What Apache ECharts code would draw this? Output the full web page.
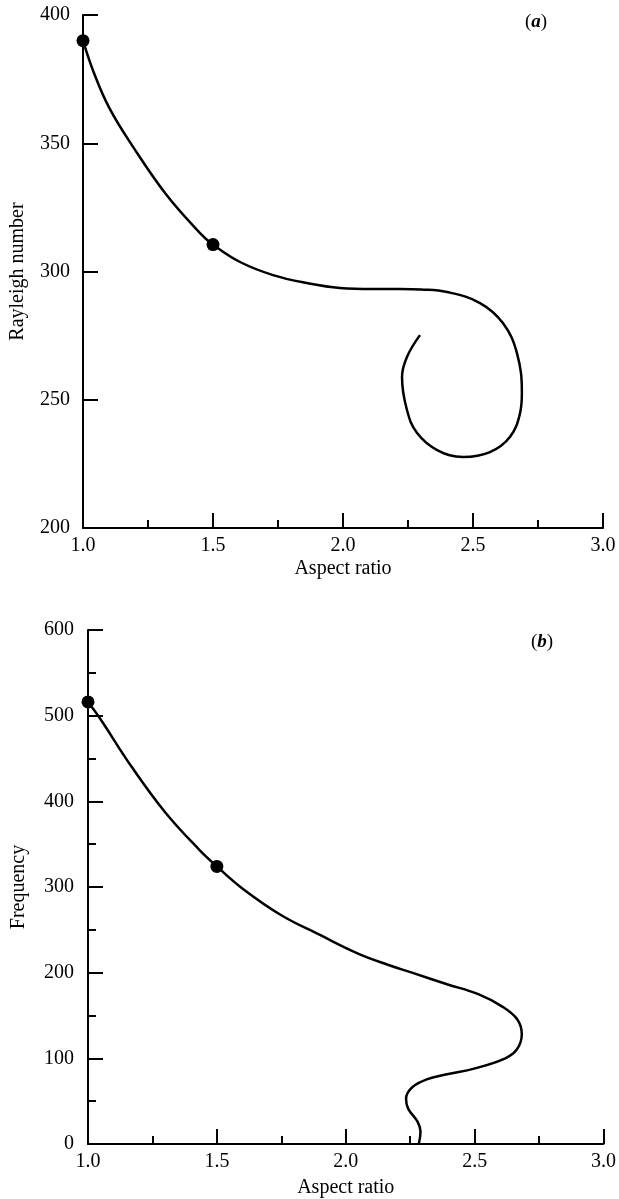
<!DOCTYPE html>
<html>
<head>
<meta charset="utf-8">
<title>Rayleigh number / Frequency vs aspect ratio</title>
<script src="https://cdn.jsdelivr.net/npm/echarts@6/dist/echarts.min.js"></script>
<style>
  html, body { margin: 0; padding: 0; background: #fff; }
  #chart { width: 619px; height: 1199px; }
</style>
</head>
<body>
<div id="chart"></div>
<script>
// (a) Rayleigh number curve
var ratioA = [1.0, 1.04, 1.1, 1.19, 1.32, 1.45, 1.5, 1.604, 1.731, 1.862, 1.988, 2.115, 2.219, 2.30, 2.4, 2.527, 2.615, 2.669, 2.688, 2.681, 2.642, 2.565, 2.462, 2.362, 2.285, 2.246, 2.227, 2.246, 2.296];
var rayleigh = [390, 378, 364, 349, 330, 315, 310.5, 303.7, 298.6, 295.5, 293.6, 293.2, 293.2, 293.0, 292, 287.7, 279.9, 268.2, 252.6, 244.8, 235.5, 229.6, 227.7, 230.4, 237, 246, 258.9, 266.7, 275.2];
var dotsA = [[1.0, 390], [1.5, 310.5]];

// (b) Frequency curve
var ratioB = [1.0, 1.046, 1.17, 1.30, 1.43, 1.5, 1.6, 1.75, 1.9, 2.05, 2.166, 2.257, 2.393, 2.514, 2.604, 2.665, 2.683, 2.665, 2.619, 2.498, 2.393, 2.317, 2.257, 2.234, 2.242, 2.279, 2.290, 2.284];
var frequency = [516, 497, 440, 387, 344, 324, 298, 267, 244, 222, 209, 200, 186.5, 175, 161, 145.6, 128, 110.8, 100, 88, 81.5, 75.7, 66, 52.9, 41.3, 25.9, 14.3, 0.8];
var dotsB = [[1.0, 516], [1.5, 324]];

function pairs(xs, ys) {
    var out = [];
    for (var i = 0; i < xs.length; i++) out.push([xs[i], ys[i]]);
    return out;
}

var font = 'Liberation Serif';
var fs = 20;
var axisLineStyle = { color: '#000', width: 2 };

function xAxisFor(idx) {
    return {
        type: 'value', gridIndex: idx, min: 1, max: 3, interval: 0.5,
        name: 'Aspect ratio', nameLocation: 'middle', nameGap: idx === 0 ? 31 : 34,
        nameTextStyle: { color: '#000', fontFamily: font, fontSize: fs },
        axisLine: { lineStyle: axisLineStyle },
        axisTick: { inside: true, length: 15, lineStyle: { color: '#000', width: 2 } },
        minorTick: { show: true, splitNumber: 2, length: 8, lineStyle: { color: '#000', width: 2 } },
        axisLabel: { color: '#000', fontFamily: font, fontSize: fs, margin: 8,
                     formatter: function (v) { return v.toFixed(1); } },
        splitLine: { show: false }
    };
}

var chart = echarts.init(document.getElementById('chart'));
var titleStyle = { color: '#000', fontFamily: font, fontSize: 19, fontWeight: 'normal',
                   rich: { i: { fontStyle: 'italic', fontWeight: 'bold', fontFamily: font, fontSize: 19 } } };
var option = {
    animation: false,
    title: [
        { text: '({i|a})', left: 520, top: 8, textStyle: titleStyle },
        { text: '({i|b})', left: 526, top: 628, textStyle: titleStyle }
    ],
    grid: [
        { left: 83, width: 520, top: 15, height: 513 },
        { left: 88, width: 524, top: 630, height: 516 }
    ],
    xAxis: [xAxisFor(0), xAxisFor(1)],
    yAxis: [
        {
            type: 'value', gridIndex: 0, min: 200, max: 400, interval: 50,
            name: 'Rayleigh number', nameLocation: 'middle', nameGap: 55,
            nameTextStyle: { color: '#000', fontFamily: font, fontSize: fs },
            axisLine: { show: true, lineStyle: axisLineStyle },
            axisTick: { show: true, inside: true, length: 15, lineStyle: { color: '#000', width: 2 } },
            axisLabel: { color: '#000', fontFamily: font, fontSize: fs, margin: 13 },
            splitLine: { show: false }
        },
        {
            type: 'value', gridIndex: 1, min: 0, max: 600, interval: 100,
            name: 'Frequency', nameLocation: 'middle', nameGap: 59,
            nameTextStyle: { color: '#000', fontFamily: font, fontSize: fs },
            axisLine: { show: true, lineStyle: axisLineStyle },
            axisTick: { show: true, inside: true, length: 15, lineStyle: { color: '#000', width: 2 } },
            minorTick: { show: true, splitNumber: 2, length: 8, lineStyle: { color: '#000', width: 2 } },
            axisLabel: { color: '#000', fontFamily: font, fontSize: fs, margin: 14 },
            splitLine: { show: false }
        }
    ],
    series: [
        {
            type: 'line', xAxisIndex: 0, yAxisIndex: 0, data: pairs(ratioA, rayleigh),
            smooth: 0.4, showSymbol: false, lineStyle: { color: '#000', width: 2.5 }
        },
        {
            type: 'scatter', xAxisIndex: 0, yAxisIndex: 0, data: dotsA,
            symbolSize: 13, itemStyle: { color: '#000', opacity: 1 }
        },
        {
            type: 'line', xAxisIndex: 1, yAxisIndex: 1, data: pairs(ratioB, frequency),
            smooth: 0.4, showSymbol: false, lineStyle: { color: '#000', width: 2.5 }
        },
        {
            type: 'scatter', xAxisIndex: 1, yAxisIndex: 1, data: dotsB,
            symbolSize: 13, itemStyle: { color: '#000', opacity: 1 }
        }
    ]
};
chart.setOption(option);
</script>
</body>
</html>
